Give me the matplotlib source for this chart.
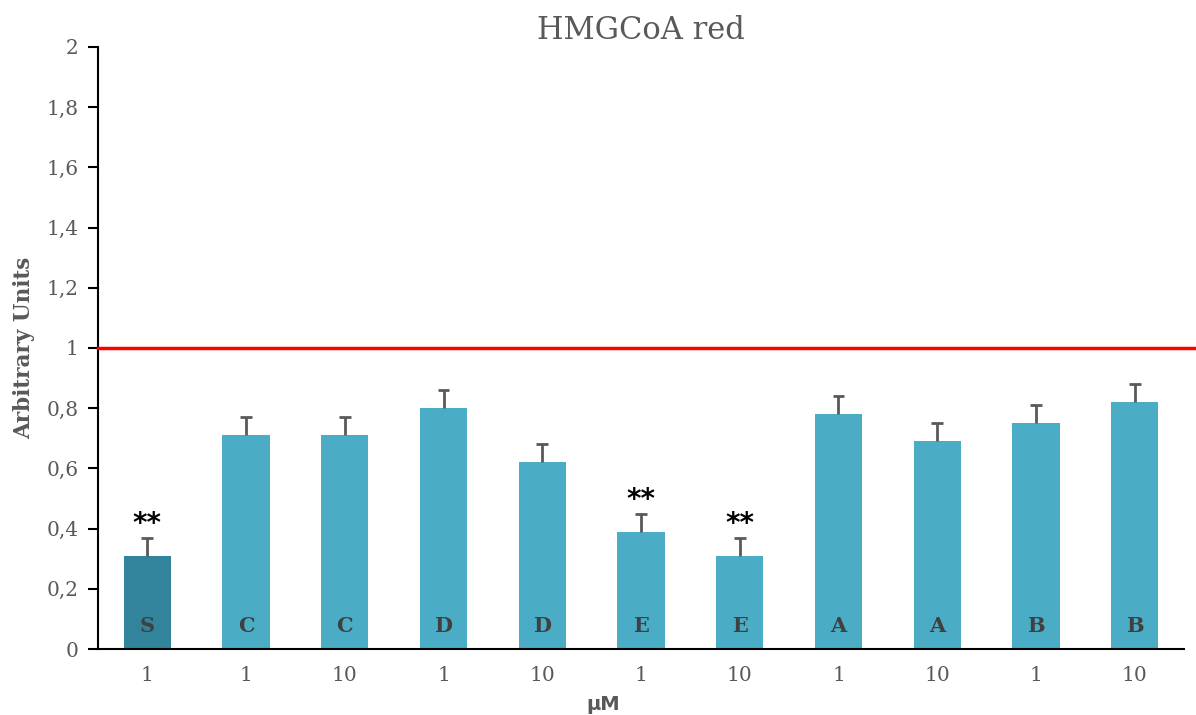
import numpy as np
import matplotlib
matplotlib.use('Agg')
import matplotlib.pyplot as plt
from matplotlib.ticker import FuncFormatter

# Relative expression, one bar per treatment/dose
doses    = ['1', '1', '10', '1', '10', '1', '10', '1', '10', '1', '10']
letters  = ['S', 'C', 'C', 'D', 'D', 'E', 'E', 'A', 'A', 'B', 'B']
values   = [0.31, 0.71, 0.71, 0.80, 0.62, 0.39, 0.31, 0.78, 0.69, 0.75, 0.82]
errors   = [0.06, 0.06, 0.06, 0.06, 0.06, 0.06, 0.06, 0.06, 0.06, 0.06, 0.06]
signif   = ['**', '', '', '', '', '**', '**', '', '', '', '']
control  = 1.0

serif = 'DejaVu Serif'
grey  = '#595959'

fig = plt.figure(figsize=(11.96, 7.15), dpi=100)
ax  = fig.add_axes([0.0819, 0.0923, 0.9081, 0.8420])

x = np.arange(len(values))
v = np.array(values)
e = np.array(errors)
colors = ['#31849B'] + ['#4BACC6'] * (len(values) - 1)
ax.bar(x, v, width=0.48, color=colors, zorder=2)

# upper error bars only
ax.vlines(x, v, v + e, color=grey, lw=2, zorder=3)
ax.hlines(v + e, x - 0.06, x + 0.06, color=grey, lw=2, zorder=3)

# letter inside each bar and significance stars above the error bar
for xi, vi, ei, l, s in zip(x, v, e, letters, signif):
    ax.text(xi, 0.075, l, ha='center', va='center', fontsize=15,
            fontweight='bold', family=serif, color='#404040', zorder=4)
    if s:
        ax.text(xi, vi + ei + 0.0, s, ha='center', va='bottom', fontsize=20,
                fontweight='bold', family='DejaVu Sans', color='black')

# control level
ax.plot([-0.5, 10.62], [control, control], color='#FF0000', lw=2.5,
        clip_on=False, zorder=5)

ax.set_xlim(-0.5, 10.5)
ax.set_ylim(0, 2)
ax.set_yticks(np.arange(0, 2.01, 0.2))
ax.yaxis.set_major_formatter(FuncFormatter(lambda t, p: ('%g' % round(t, 1)).replace('.', ',')))
ax.set_xticks(x)
ax.set_xticklabels(doses)

for sp in ['top', 'right']:
    ax.spines[sp].set_visible(False)
ax.spines['left'].set_linewidth(1.5)
ax.spines['bottom'].set_linewidth(1.5)
ax.tick_params(axis='y', length=7, width=1.5, labelsize=14.5, labelcolor=grey, pad=7)
ax.tick_params(axis='x', length=0, labelsize=14.5, labelcolor=grey, pad=12)
for lab in ax.get_xticklabels() + ax.get_yticklabels():
    lab.set_family(serif)

ax.set_title('HMGCoA red', fontsize=22, family=serif, color=grey, pad=6)
ax.set_ylabel('Arbitrary Units', fontsize=15.5, fontweight='bold', family=serif,
              color=grey, labelpad=8)
fig.text(603 / 1196, 1 - 704 / 715, 'µM', fontsize=14, fontweight='bold',
         family='DejaVu Sans', color=grey, ha='center', va='center')

fig.savefig('out.png', dpi=100)
